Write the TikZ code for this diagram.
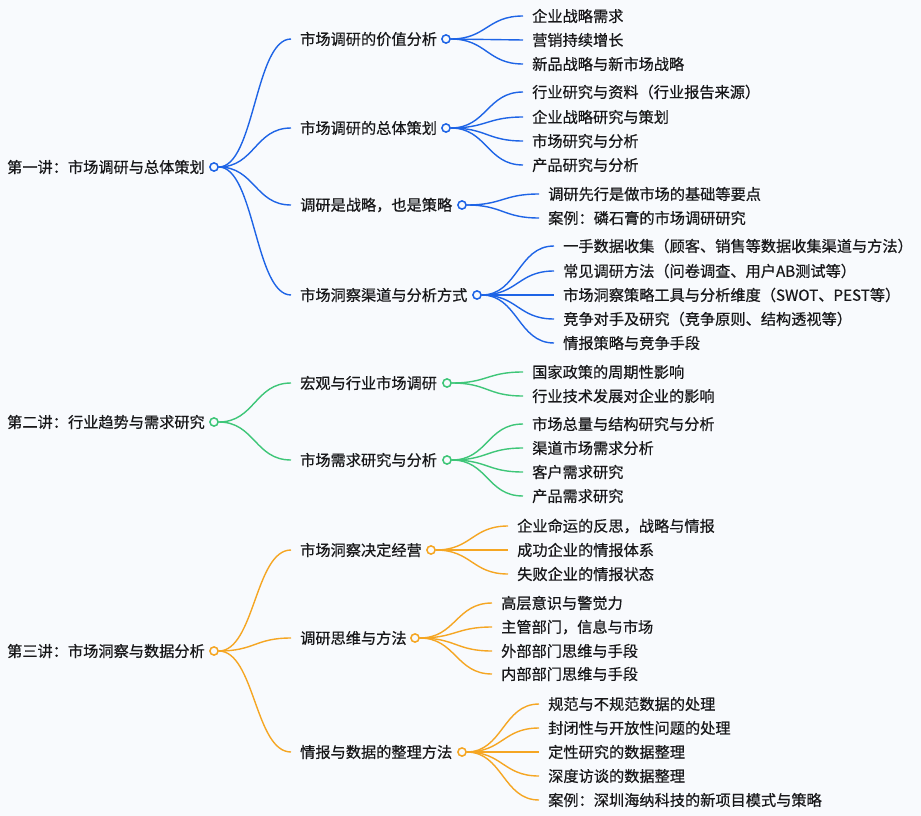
\documentclass[tikz,border=0pt]{standalone}
\usepackage{fontspec}
\newfontfamily\cjk[RawFeature={embolden=0.6}]{Noto Sans CJK SC}
\definecolor{bg}{RGB}{248,250,253}
\definecolor{txtc}{RGB}{24,24,26}
\definecolor{cb}{RGB}{30,100,230}
\definecolor{cg}{RGB}{62,198,120}
\definecolor{co}{RGB}{245,166,35}
\tikzset{
  txt/.style={anchor=west, inner sep=0pt, font=\cjk\fontsize{15.2}{18}\selectfont, text=txtc},
  dot/.style={circle, draw=#1, fill=bg, line width=1.4pt, minimum size=8pt, inner sep=0pt},
  lnk/.style={draw=#1, line width=1.4pt},
}
\newcommand\br[3]{\draw[lnk=#1] (#2.east) .. controls +(36,0) and +(-36,0) .. ([xshift=-9pt]#3.west);}
\begin{document}
\begin{tikzpicture}[x=1pt,y=-1pt]
\fill[bg] (0,0) rectangle (921,816);
\useasboundingbox (0,0) rectangle (921,816);

% ---------- Lecture 1 ----------
\node[txt] (r1) at (7,167) {第一讲：市场调研与总体策划};
\node[txt] (a1) at (300,39) {市场调研的价值分析};
\node[txt] (a2) at (300,128) {市场调研的总体策划};
\node[txt] (a3) at (300,205) {调研是战略，也是策略};
\node[txt] (a4) at (300,295) {市场洞察渠道与分析方式};
\node[txt] (a11) at (532,16) {企业战略需求};
\node[txt] (a12) at (532,40) {营销持续增长};
\node[txt] (a13) at (532,64) {新品战略与新市场战略};
\node[txt] (a21) at (532,92) {行业研究与资料（行业报告来源）};
\node[txt] (a22) at (532,117) {企业战略研究与策划};
\node[txt] (a23) at (532,141) {市场研究与分析};
\node[txt] (a24) at (532,165) {产品研究与分析};
\node[txt] (a31) at (548,194) {调研先行是做市场的基础等要点};
\node[txt] (a32) at (548,218) {案例：磷石膏的市场调研研究};
\node[txt] (a41) at (563,246) {一手数据收集（顾客、销售等数据收集渠道与方法）};
\node[txt] (a42) at (563,271) {常见调研方法（问卷调查、用户AB测试等）};
\node[txt] (a43) at (563,295) {市场洞察策略工具与分析维度（SWOT、PEST等）};
\node[txt] (a44) at (563,319) {竞争对手及研究（竞争原则、结构透视等）};
\node[txt] (a45) at (563,343) {情报策略与竞争手段};
\node[dot=cb] (r1c) at (214,167) {};
\node[dot=cb] (a1c) at (446,39) {};
\node[dot=cb] (a2c) at (446,128) {};
\node[dot=cb] (a3c) at (462,205) {};
\node[dot=cb] (a4c) at (477,295) {};
\foreach \t in {a1,a2,a3,a4}{\br{cb}{r1c}{\t}}
\foreach \t in {a11,a12,a13}{\br{cb}{a1c}{\t}}
\foreach \t in {a21,a22,a23,a24}{\br{cb}{a2c}{\t}}
\foreach \t in {a31,a32}{\br{cb}{a3c}{\t}}
\foreach \t in {a41,a42,a43,a44,a45}{\br{cb}{a4c}{\t}}
\foreach \c in {r1c,a1c,a2c,a3c,a4c}{\node[dot=cb] at (\c) {};}

% ---------- Lecture 2 ----------
\node[txt] (r2) at (7,422) {第二讲：行业趋势与需求研究};
\node[txt] (b1) at (300,383) {宏观与行业市场调研};
\node[txt] (b2) at (300,460) {市场需求研究与分析};
\node[txt] (b11) at (532,372) {国家政策的周期性影响};
\node[txt] (b12) at (532,396) {行业技术发展对企业的影响};
\node[txt] (b21) at (532,424) {市场总量与结构研究与分析};
\node[txt] (b22) at (532,448) {渠道市场需求分析};
\node[txt] (b23) at (532,472) {客户需求研究};
\node[txt] (b24) at (532,496) {产品需求研究};
\node[dot=cg] (r2c) at (214,422) {};
\node[dot=cg] (b1c) at (447,383) {};
\node[dot=cg] (b2c) at (447,460) {};
\foreach \t in {b1,b2}{\br{cg}{r2c}{\t}}
\foreach \t in {b11,b12}{\br{cg}{b1c}{\t}}
\foreach \t in {b21,b22,b23,b24}{\br{cg}{b2c}{\t}}
\foreach \c in {r2c,b1c,b2c}{\node[dot=cg] at (\c) {};}

% ---------- Lecture 3 ----------
\node[txt] (r3) at (7,651) {第三讲：市场洞察与数据分析};
\node[txt] (c1) at (300,550) {市场洞察决定经营};
\node[txt] (c2) at (300,638) {调研思维与方法};
\node[txt] (c3) at (300,752) {情报与数据的整理方法};
\node[txt] (c11) at (517,526) {企业命运的反思，战略与情报};
\node[txt] (c12) at (517,550) {成功企业的情报体系};
\node[txt] (c13) at (517,574) {失败企业的情报状态};
\node[txt] (c21) at (501,603) {高层意识与警觉力};
\node[txt] (c22) at (501,627) {主管部门，信息与市场};
\node[txt] (c23) at (501,651) {外部部门思维与手段};
\node[txt] (c24) at (501,674) {内部部门思维与手段};
\node[txt] (c31) at (548,704) {规范与不规范数据的处理};
\node[txt] (c32) at (548,728) {封闭性与开放性问题的处理};
\node[txt] (c33) at (548,752) {定性研究的数据整理};
\node[txt] (c34) at (548,776) {深度访谈的数据整理};
\node[txt] (c35) at (548,800) {案例：深圳海纳科技的新项目模式与策略};
\node[dot=co] (r3c) at (214,651) {};
\node[dot=co] (c1c) at (431,550) {};
\node[dot=co] (c2c) at (415,638) {};
\node[dot=co] (c3c) at (462,752) {};
\foreach \t in {c1,c2,c3}{\br{co}{r3c}{\t}}
\foreach \t in {c11,c12,c13}{\br{co}{c1c}{\t}}
\foreach \t in {c21,c22,c23,c24}{\br{co}{c2c}{\t}}
\foreach \t in {c31,c32,c33,c34,c35}{\br{co}{c3c}{\t}}
\foreach \c in {r3c,c1c,c2c,c3c}{\node[dot=co] at (\c) {};}
\end{tikzpicture}
\end{document}
